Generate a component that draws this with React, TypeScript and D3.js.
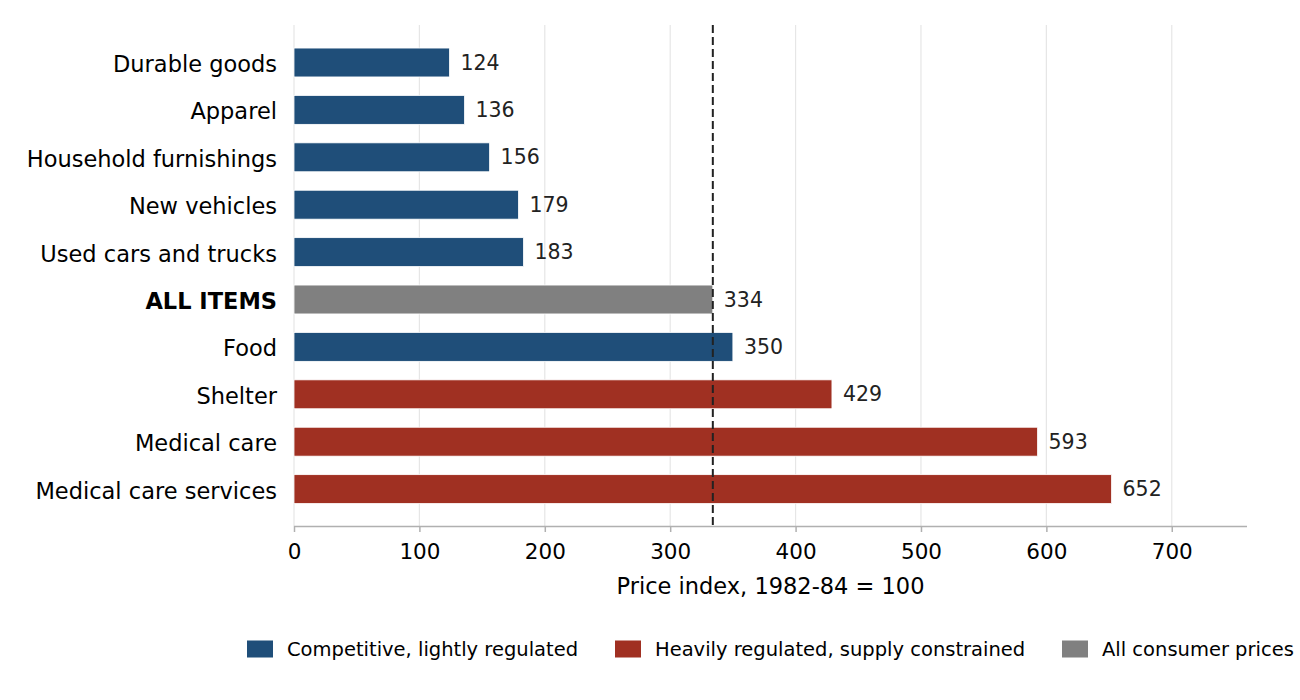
import * as d3 from 'd3';
import React, { useEffect, useRef } from 'react';

// Data
const categories = [
  "Durable goods",
  "Apparel",
  "Household furnishings",
  "New vehicles",
  "Used cars and trucks",
  "ALL ITEMS",
  "Food",
  "Shelter",
  "Medical care",
  "Medical care services",
];
const values = [124, 136, 156, 179, 183, 334, 350, 429, 593, 652];
const groups = ["comp", "comp", "comp", "comp", "comp", "all", "comp", "reg", "reg", "reg"];
const allItemsValue = 334;
const xTicks = [0, 100, 200, 300, 400, 500, 600, 700];

const legendItems = [
  { key: "comp", label: "Competitive, lightly regulated" },
  { key: "reg", label: "Heavily regulated, supply constrained" },
  { key: "all", label: "All consumer prices" },
];

const colors: Record<string, string> = { comp: "#1f4e79", reg: "#a03022", all: "#808080" };

const App: React.FC = () => {
  const ref = useRef<SVGSVGElement>(null);

  useEffect(() => {
    if (!ref.current) return;
    const svg = d3.select(ref.current);
    svg.selectAll("*").remove();

    const font = "DejaVu Sans, sans-serif";
    const left = 294, right = 1247, top = 25, bottom = 526;

    const x = d3.scaleLinear().domain([0, 760]).range([left, right]);
    const y = d3.scaleBand()
      .domain(categories)
      .range([38.8, 512.8])
      .paddingInner(0.39)
      .paddingOuter(0.195);

    // Vertical gridlines
    svg.append("g")
      .selectAll("line")
      .data(xTicks)
      .enter().append("line")
      .attr("x1", d => x(d)).attr("x2", d => x(d))
      .attr("y1", top).attr("y2", bottom)
      .attr("stroke", "#e6e6e6")
      .attr("stroke-width", 1.2);

    // Bars
    const rows = categories.map((c, i) => ({ c, v: values[i], g: groups[i] }));
    svg.append("g")
      .selectAll("rect")
      .data(rows)
      .enter().append("rect")
      .attr("x", x(0))
      .attr("y", d => y(d.c) as number)
      .attr("width", d => x(d.v) - x(0))
      .attr("height", y.bandwidth())
      .attr("fill", d => colors[d.g])
      .attr("stroke", "white")
      .attr("stroke-width", 0.8);

    // Value labels
    svg.append("g")
      .selectAll("text")
      .data(rows)
      .enter().append("text")
      .attr("x", d => x(d.v) + 11)
      .attr("y", d => (y(d.c) as number) + y.bandwidth() / 2)
      .attr("dy", "0.35em")
      .style("font", `20.5px ${font}`)
      .attr("fill", "#222")
      .text(d => d.v);

    // Category labels
    svg.append("g")
      .selectAll("text")
      .data(rows)
      .enter().append("text")
      .attr("x", 277)
      .attr("y", d => (y(d.c) as number) + y.bandwidth() / 2)
      .attr("dy", "0.42em")
      .attr("text-anchor", "end")
      .style("font", d => `${d.g === "all" ? "bold " : ""}22.5px ${font}`)
      .attr("fill", "#000")
      .text(d => d.c);

    // Dashed all-items reference line
    svg.append("line")
      .attr("x1", x(allItemsValue)).attr("x2", x(allItemsValue))
      .attr("y1", top).attr("y2", bottom)
      .attr("stroke", "#222")
      .attr("stroke-width", 2)
      .attr("stroke-dasharray", "8,4");

    // X axis
    const axis = svg.append("g")
      .attr("transform", `translate(0,${bottom})`)
      .call(d3.axisBottom(x).tickValues(xTicks).tickSize(6).tickPadding(12).tickSizeOuter(0));
    axis.select(".domain").attr("stroke", "#b0b0b0").attr("stroke-width", 1.5);
    axis.selectAll(".tick line").attr("stroke", "#b0b0b0").attr("stroke-width", 1.5);
    axis.selectAll("text").style("font", `21.5px ${font}`).attr("fill", "#000");
    axis.select(".domain").attr("d", `M${left},0.5H${right}`);

    svg.append("text")
      .attr("x", (left + right) / 2)
      .attr("y", 594)
      .attr("text-anchor", "middle")
      .style("font", `22.5px ${font}`)
      .attr("fill", "#000")
      .text("Price index, 1982-84 = 100");

    // Legend
    const legendX = [247, 615, 1062];
    const lg = svg.append("g")
      .selectAll("g")
      .data(legendItems)
      .enter().append("g")
      .attr("transform", (_d, i) => `translate(${legendX[i]},649)`);
    lg.append("rect")
      .attr("x", 0).attr("y", -8.5)
      .attr("width", 26).attr("height", 17)
      .attr("fill", d => colors[d.key]);
    lg.append("text")
      .attr("x", 40)
      .attr("dy", "0.35em")
      .style("font", `19.5px ${font}`)
      .attr("fill", "#000")
      .text(d => d.label);
  }, []);

  return (
    <svg
      ref={ref}
      width={1300}
      height={700}
      style={{ position: "absolute", left: 0, top: 0, background: "white" }}
    />
  );
};

export default App;
